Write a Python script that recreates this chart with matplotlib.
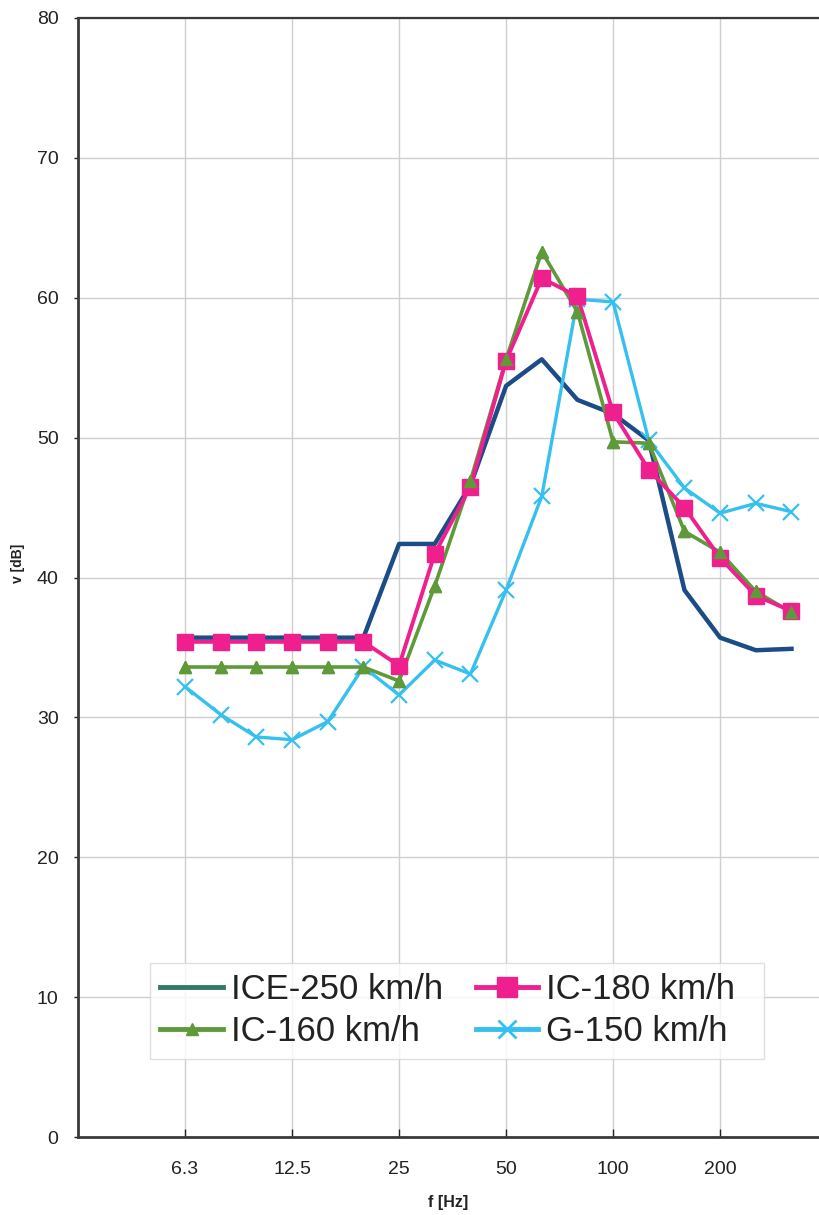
import matplotlib
matplotlib.use("Agg")
import matplotlib.pyplot as plt
from matplotlib.lines import Line2D

plt.rcParams['font.family'] = ['Liberation Sans', 'DejaVu Sans']

# 1/3 octave band centre frequencies
freqs = ['6.3', '8', '10', '12.5', '16', '20', '25', '31.5', '40', '50',
         '63', '80', '100', '125', '160', '200', '250', '315']
shown_ticks = ['6.3', '12.5', '25', '50', '100', '200']

ice_250 = [35.7, 35.7, 35.7, 35.7, 35.7, 35.7, 42.4, 42.4, 46.6, 53.7,
           55.6, 52.7, 51.7, 49.8, 39.1, 35.7, 34.8, 34.9]
ic_180 = [35.4, 35.4, 35.4, 35.4, 35.4, 35.4, 33.7, 41.7, 46.5, 55.5,
          61.4, 60.1, 51.8, 47.7, 45.0, 41.4, 38.7, 37.6]
ic_160 = [33.6, 33.6, 33.6, 33.6, 33.6, 33.6, 32.6, 39.4, 46.9, 55.6,
          63.3, 59.0, 49.7, 49.6, 43.3, 41.8, 39.0, 37.5]
g_150 = [32.2, 30.2, 28.6, 28.4, 29.7, 33.6, 31.6, 34.1, 33.1, 39.1,
         45.8, 59.9, 59.7, 49.8, 46.4, 44.6, 45.3, 44.7]

navy = '#1c4c86'
pink = '#ef1f8e'
green = '#5e9a3a'
sky = '#35c0ef'
legend_teal = '#2f7a66'

fig = plt.figure(figsize=(8.2, 12.15), dpi=100)
ax = fig.add_axes([78 / 820, 78 / 1215, 767 / 820, 1119 / 1215])

x = list(range(len(freqs)))
ax.plot(x, ice_250, color=navy, lw=3.2, zorder=3)
ax.plot(x, ic_160, color=green, lw=2.6, marker='^', ms=8, zorder=4)
ax.plot(x, g_150, color=sky, lw=2.4, marker='x', ms=11, mew=1.6, zorder=3)
ax.plot(x, ic_180, color=pink, lw=2.8, marker='s', ms=12, zorder=5)
# green triangles drawn above pink squares where they coincide
ax.plot(x, ic_160, color=green, lw=0, marker='^', ms=8, zorder=6)

ax.set_xlim(-3, 18.5)
ax.set_ylim(0, 80)
ax.set_yticks(range(0, 81, 10))
ax.set_xticks([freqs.index(t) for t in shown_ticks])
ax.set_xticklabels(shown_ticks)

ax.grid(True, color='#cfcfcf', lw=1.0)
ax.set_axisbelow(True)

for side in ['left', 'bottom', 'top']:
    ax.spines[side].set_color('#3a3a3a')
    ax.spines[side].set_linewidth(2.0)
ax.spines['top'].set_linewidth(1.6)
ax.spines['right'].set_visible(False)

ax.tick_params(axis='y', direction='out', length=3, width=1, pad=11,
               labelsize=14, colors='#222222')
ax.tick_params(axis='x', direction='in', length=6, width=1, pad=17,
               labelsize=14, colors='#222222')

fig.text(448 / 820, 1 - 1203 / 1215, 'f [Hz]', ha='center', va='center',
         fontsize=11.5, fontweight='bold', color='#222222')
fig.text(18 / 820, 1 - 563 / 1215, 'v [dB]', ha='center', va='center',
         rotation=90, fontsize=10, fontweight='bold', color='#222222')

handles = [
    Line2D([], [], color=legend_teal, lw=3.5),
    Line2D([], [], color=green, lw=3.5, marker='^', ms=9),
    Line2D([], [], color=pink, lw=3.5, marker='s', ms=14),
    Line2D([], [], color=sky, lw=3.5, marker='x', ms=13, mew=2),
]
labels = ['ICE-250 km/h', 'IC-160 km/h', 'IC-180 km/h  ', 'G-150 km/h  ']
leg = fig.legend(handles, labels, ncol=2, loc='upper left',
                 bbox_to_anchor=(150 / 820, 1 - 963 / 1215),
                 fontsize=25, frameon=True, fancybox=False,
                 handlelength=1.8, handletextpad=0.22, columnspacing=0.95,
                 labelspacing=0.26, borderpad=0.3, borderaxespad=0)
leg.get_frame().set_edgecolor('#d8d8d8')
leg.get_frame().set_linewidth(1.0)
for t in leg.get_texts():
    t.set_color('#222222')

fig.savefig('out.png', dpi=100)
